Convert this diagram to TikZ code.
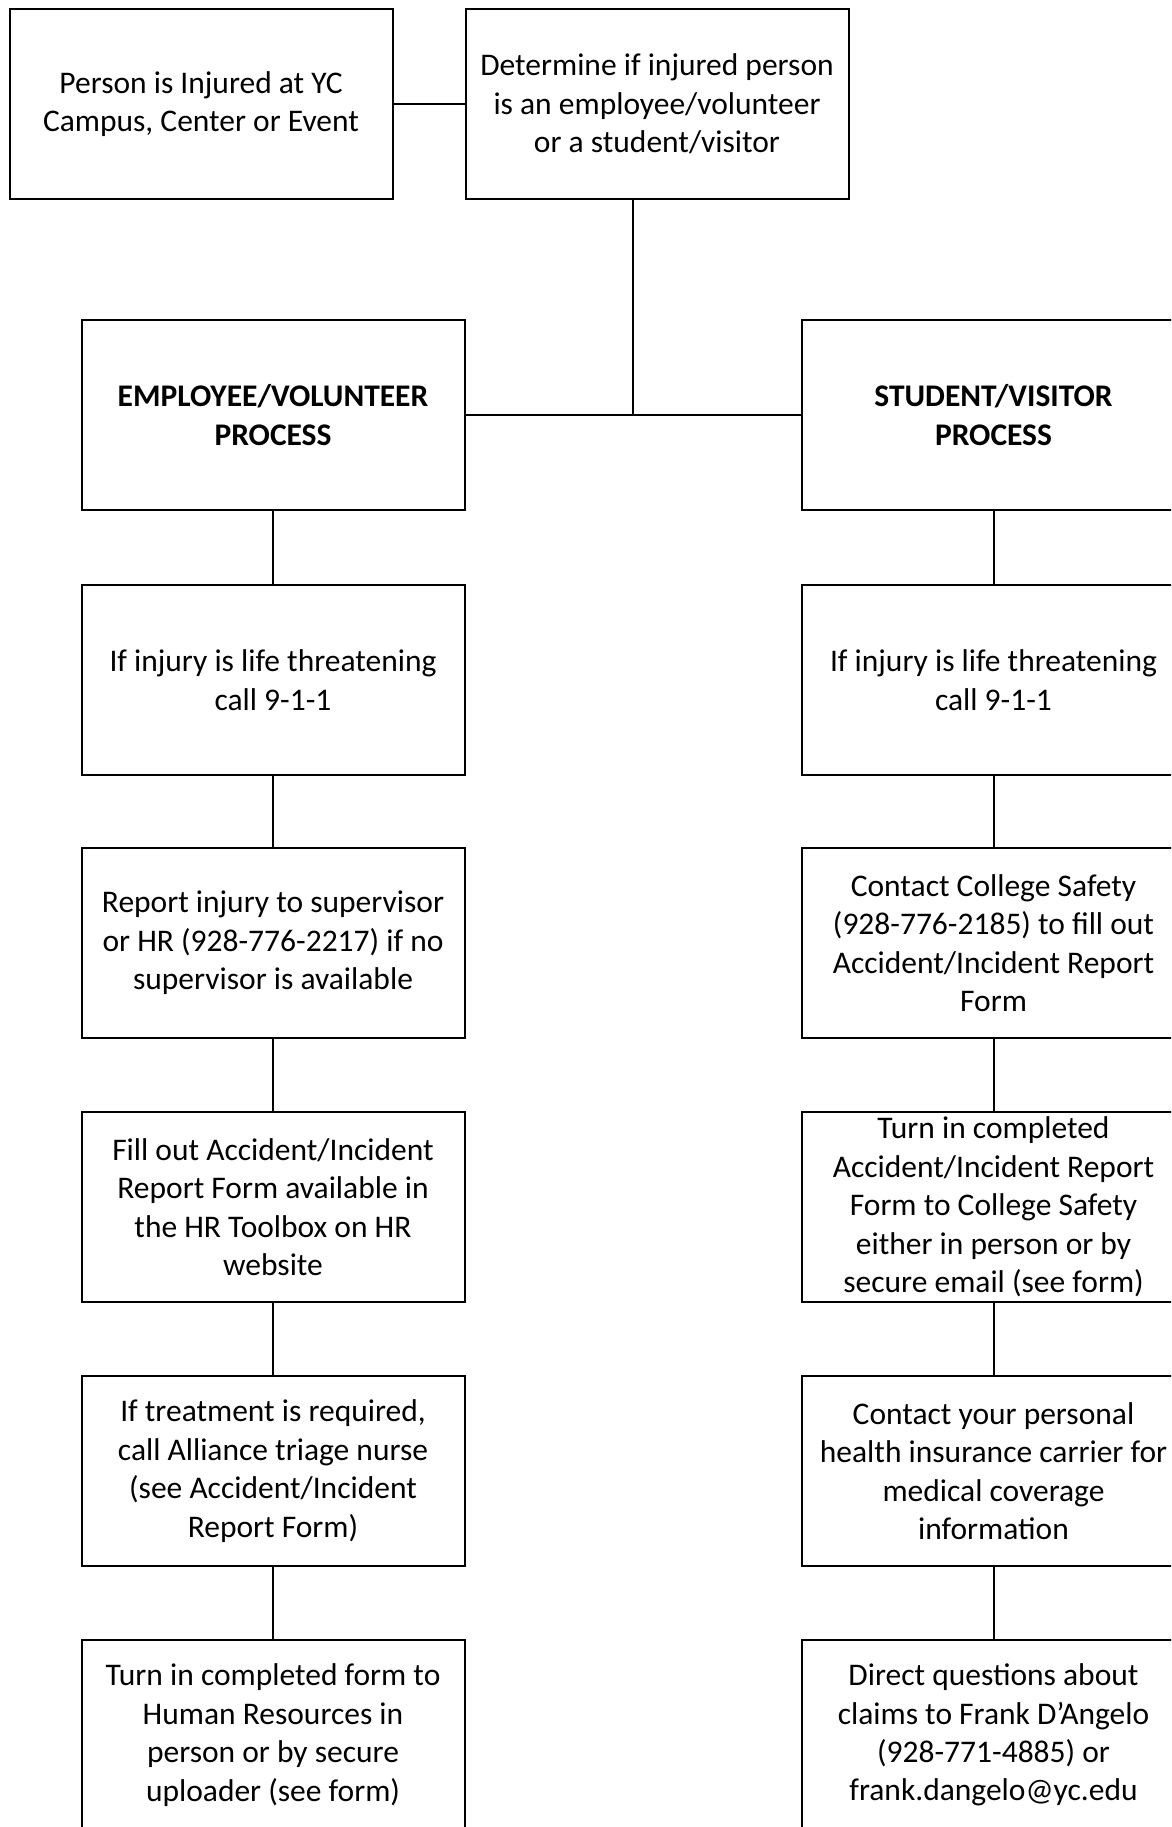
\documentclass[tikz,border=0pt]{standalone}
\usepackage{fontspec}
\setmainfont{Carlito}
\usepackage{tikz}

\begin{document}
\begin{tikzpicture}[x=1pt,y=-1pt,
	box/.style={draw, line width=2pt, minimum width=383pt, minimum height=190pt,
		inner sep=0pt, align=center, font=\fontsize{31.5}{38.4}\selectfont},
	link/.style={line width=2pt}]
	\clip (0,0) rectangle (1171,1827);
%	\draw [help lines] (0,0) grid (1171,1827);
	% top row
	\node [box] (injured) at (201,104) {Person is Injured at YC\\Campus, Center or Event};
	\node [box] (determine) at (657,104) {Determine if injured person\\is an employee/volunteer\\or a student/visitor};
	% the two processes
	\node [box] (emp) at (273,415) {\textbf{EMPLOYEE/VOLUNTEER}\\\textbf{PROCESS}};
	\node [box] (stu) at (993.5,415) {\textbf{STUDENT/VISITOR}\\\textbf{PROCESS}};
	\coordinate (split) at (633,415);
	% employee / volunteer steps
	\node [box] (emp1) at (273,680) {If injury is life threatening\\call 9-1-1};
	\node [box] (emp2) at (273,943) {Report injury to supervisor\\or HR (928-776-2217) if no\\supervisor is available};
	\node [box] (emp3) at (273,1207) {Fill out Accident/Incident\\Report Form available in\\the HR Toolbox on HR\\website};
	\node [box] (emp4) at (273,1471) {If treatment is required,\\call Alliance triage nurse\\(see Accident/Incident\\Report Form)};
	\node [box] (emp5) at (273,1735) {Turn in completed form to\\Human Resources in\\person or by secure\\uploader (see form)};
	% student / visitor steps
	\node [box] (stu1) at (993.5,680) {If injury is life threatening\\call 9-1-1};
	\node [box] (stu2) at (993.5,943) {Contact College Safety\\(928-776-2185) to fill out\\Accident/Incident Report\\Form};
	\node [box] (stu3) at (993.5,1207) {Turn in completed\\Accident/Incident Report\\Form to College Safety\\either in person or by\\secure email (see form)};
	\node [box] (stu4) at (993.5,1471) {Contact your personal\\health insurance carrier for\\medical coverage\\information};
	\node [box] (stu5) at (993.5,1735) {Direct questions about\\claims to Frank D’Angelo\\(928-771-4885) or\\frank.dangelo@yc.edu};
	% connectors
	\draw [link] (injured) -- (determine);
	\draw [link] (determine.south -| split) -- (split);
	\draw [link] (emp) -- (stu);
	\foreach \a/\b in {emp/emp1, emp1/emp2, emp2/emp3, emp3/emp4, emp4/emp5,
		stu/stu1, stu1/stu2, stu2/stu3, stu3/stu4, stu4/stu5}
		\draw [link] (\a) -- (\b);
\end{tikzpicture}
\end{document}
